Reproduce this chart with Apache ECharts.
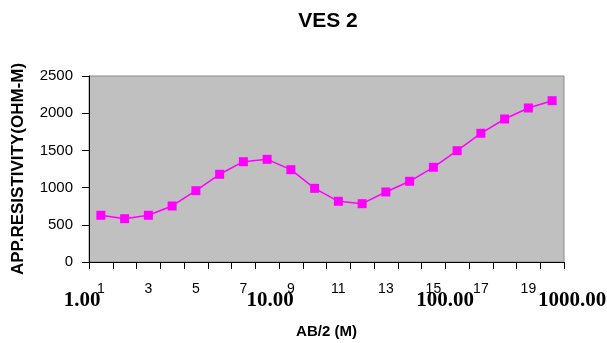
<!DOCTYPE html>
<html>
<head>
<meta charset="utf-8">
<script src="https://cdn.jsdelivr.net/npm/echarts@6/dist/echarts.min.js"></script>
<style>
  html, body { margin: 0; padding: 0; background: #fff; }
  #main { width: 607px; height: 343px; }
</style>
</head>
<body>
<div id="main"></div>
<script>
// spacing numbers along the AB/2 axis
var categories = ['1', '2', '3', '4', '5', '6', '7', '8', '9', '10',
                  '11', '12', '13', '14', '15', '16', '17', '18', '19', '20'];
// apparent resistivity
var resistivity = [628, 582, 628, 753, 958, 1179, 1348, 1380, 1241, 990,
                   816, 784, 941, 1085, 1273, 1496, 1730, 1922, 2070, 2168];
var yTicks = [0, 500, 1000, 1500, 2000, 2500];
var logLabels = ['1.00', '10.00', '100.00', '1000.00'];
var logLabelX = [82, 270, 445, 572]; // where the old log scale labels sat

var chart = echarts.init(document.getElementById('main'));

var font = '"Liberation Sans", Arial, sans-serif';

var option = {
    animation: false,
    backgroundColor: '#ffffff',
    title: {
        text: 'VES 2',
        left: 323,
        top: 6,
        textAlign: 'center',
        textStyle: { fontFamily: font, fontSize: 21, fontWeight: 'bold', color: '#000' }
    },
    grid: {
        left: 89, right: 43, top: 76, bottom: 81,
        containLabel: false,
        outerBoundsMode: 'none',
        show: true,
        backgroundColor: '#c0c0c0',
        borderColor: '#8a8a8a',
        borderWidth: 1
    },
    xAxis: {
        type: 'category',
        data: categories,
        boundaryGap: true,
        name: 'AB/2 (M)',
        nameLocation: 'middle',
        nameGap: 62,
        nameTextStyle: { fontFamily: font, fontSize: 15, fontWeight: 'bold', color: '#000' },
        axisLine: { lineStyle: { color: '#000', width: 1 } },
        axisTick: { show: true, interval: 0, length: 7, lineStyle: { color: '#000' } },
        axisLabel: { interval: 1, margin: 20, fontFamily: font, fontSize: 14, color: '#000' },
        splitLine: { show: false }
    },
    yAxis: {
        type: 'value',
        min: yTicks[0],
        max: yTicks[yTicks.length - 1],
        interval: 500,
        name: 'APP.RESISTIVITY(OHM-M)',
        nameLocation: 'middle',
        nameGap: 62,
        nameTextStyle: { fontFamily: font, fontSize: 17, fontWeight: 'bold', color: '#000' },
        axisLine: { show: true, lineStyle: { color: '#000', width: 1 } },
        axisTick: { show: true, length: 7, lineStyle: { color: '#000' } },
        axisLabel: {
            margin: 16, fontFamily: font, fontSize: 15, color: '#000',
            formatter: function (v) { return String(v); }
        },
        splitLine: { show: false }
    },
    series: [{
        type: 'line',
        data: resistivity,
        symbol: 'rect',
        symbolSize: 9,
        itemStyle: { color: '#ff00ff' },
        lineStyle: { color: '#ff00ff', width: 1.5 },
        z: 5
    }],
    graphic: logLabels.map(function (t, i) {
        return {
            type: 'text',
            x: logLabelX[i],
            y: 301,
            style: {
                text: t,
                fontFamily: '"Liberation Serif", "Times New Roman", serif',
                fontSize: 21,
                fontWeight: 'bold',
                fill: '#000',
                align: 'center',
                verticalAlign: 'middle'
            },
            z: 10
        };
    })
};

chart.setOption(option);
</script>
</body>
</html>
